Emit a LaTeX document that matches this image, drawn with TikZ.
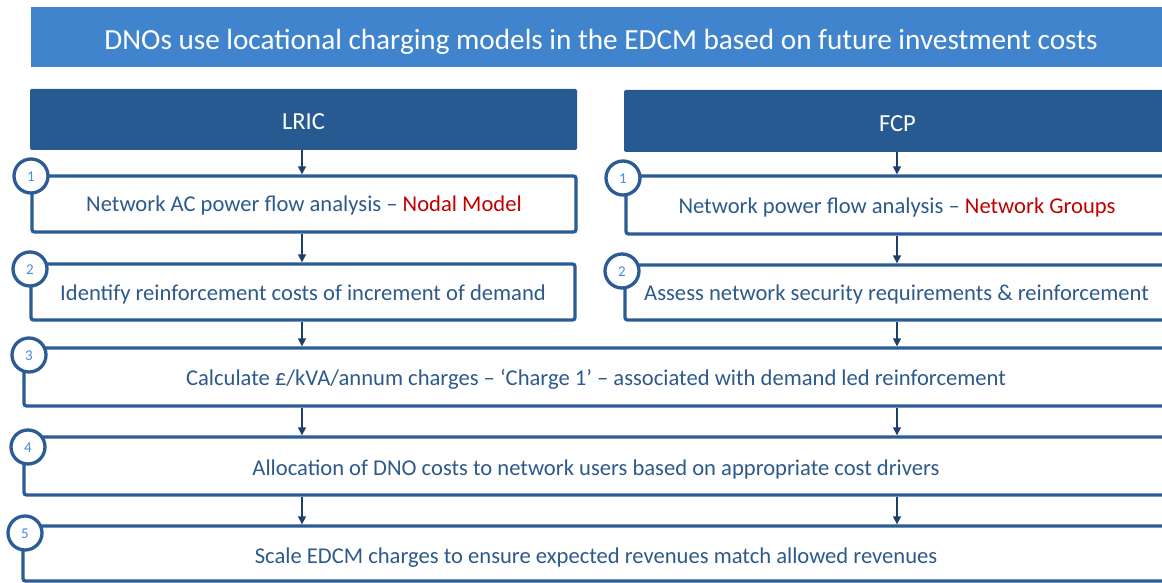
\documentclass[tikz,border=0pt]{standalone}
\usepackage{fontspec}
\setmainfont{Carlito}
\usetikzlibrary{arrows.meta}
\definecolor{titleblue}{HTML}{3F84CC}
\definecolor{headblue}{HTML}{285A92}
\definecolor{lineblue}{HTML}{2B5C95}
\definecolor{txtblue}{HTML}{2D5A8C}
\definecolor{numblue}{HTML}{4A8AE0}
\definecolor{arrblue}{HTML}{1F3F6B}
\definecolor{redtxt}{HTML}{C00000}
\newcommand{\lowtxt}[2]{\raisebox{-#1}[0pt][0pt]{#2}}
\tikzset{
  titlebar/.style={fill=titleblue, text=white, inner sep=0pt, minimum width=1140pt, minimum height=60pt, font=\fontsize{29.2}{34}\selectfont},
  headbox/.style={fill=headblue, text=white, inner sep=0pt, rounded corners=1.5pt, font=\fontsize{24.5}{29}\selectfont},
  stepbox/.style={draw=lineblue, line width=3.3pt, rounded corners=2.5pt, fill=white, inner sep=0pt, text=txtblue, font=\fontsize{22.6}{27}\selectfont},
  numcircle/.style={circle, draw=lineblue, line width=3.3pt, fill=white, minimum size=34pt, inner sep=0pt, text=numblue, font=\fontsize{15}{17}\selectfont},
  arr/.style={draw=arrblue, line width=1.4pt, -{Triangle[length=8pt,width=8pt]}}
}
\begin{document}
\begin{tikzpicture}[x=1pt,y=-1pt]
\clip (0,0) rectangle (1162,583);
\fill[white] (0,0) rectangle (1162,583);
% title
\node[titlebar] (title) at (601,37) {\lowtxt{13pt}{DNOs use locational charging models in the EDCM based on future investment costs}};
% headers
\node[headbox, minimum width=547pt, minimum height=61pt] (hl) at (303.5,119.5) {\lowtxt{10.5pt}{LRIC}};
\node[headbox, minimum width=547pt, minimum height=62pt] (hr) at (897.5,121) {\lowtxt{11pt}{FCP}};
% boxes
\node[stepbox, minimum width=544pt, minimum height=56pt] (b1l) at (304,204) {\lowtxt{8pt}{Network AC power flow analysis -- \textcolor{redtxt}{Nodal Model}}};
\node[stepbox, minimum width=544pt, minimum height=56pt] (b2l) at (303,292) {\lowtxt{8pt}{Identify reinforcement costs of increment of demand}};
\node[stepbox, minimum width=542pt, minimum height=58pt] (b1r) at (897,205) {\lowtxt{8pt}{Network power flow analysis -- \textcolor{redtxt}{Network Groups}}};
\node[stepbox, minimum width=543pt, minimum height=55pt] (b2r) at (896.5,292.5) {\lowtxt{7.5pt}{Assess network security requirements \& reinforcement}};
\node[stepbox, minimum width=1144pt, minimum height=58pt] (b3) at (596,377) {\lowtxt{8pt}{Calculate £/kVA/annum charges -- ‘Charge 1’ -- associated with demand led reinforcement}};
\node[stepbox, minimum width=1144pt, minimum height=58pt] (b4) at (596,466) {\lowtxt{9pt}{Allocation of DNO costs to network users based on appropriate cost drivers}};
\node[stepbox, minimum width=1146pt, minimum height=55pt] (b5) at (596,553.5) {\lowtxt{9.5pt}{Scale EDCM charges to ensure expected revenues match allowed revenues}};
% circles
\node[numcircle] (c1l) at (31,176) {\lowtxt{5.5pt}{1}};
\node[numcircle] (c2l) at (30,269) {\lowtxt{5.5pt}{2}};
\node[numcircle] (c3) at (29,355) {\lowtxt{5.5pt}{3}};
\node[numcircle] (c4) at (28,447) {\lowtxt{5.5pt}{4}};
\node[numcircle] (c5) at (25,533) {\lowtxt{5.5pt}{5}};
\node[numcircle] (c1r) at (623,178) {\lowtxt{5.5pt}{1}};
\node[numcircle] (c2r) at (622,271) {\lowtxt{5.5pt}{2}};
% arrows LRIC
\coordinate (xl) at (302,0);
\coordinate (xr) at (897,0);
\draw[arr] (hl.south -| xl) -- (b1l.north -| xl);
\draw[arr] (b1l.south -| xl) -- (b2l.north -| xl);
\draw[arr] (b2l.south -| xl) -- (b3.north -| xl);
\draw[arr] (b3.south -| xl) -- (b4.north -| xl);
\draw[arr] (b4.south -| xl) -- (b5.north -| xl);
% arrows FCP
\draw[arr] (hr.south -| xr) -- (b1r.north -| xr);
\draw[arr] (b1r.south -| xr) -- (b2r.north -| xr);
\draw[arr] (b2r.south -| xr) -- (b3.north -| xr);
\draw[arr] (b3.south -| xr) -- (b4.north -| xr);
\draw[arr] (b4.south -| xr) -- (b5.north -| xr);
\end{tikzpicture}
\end{document}
